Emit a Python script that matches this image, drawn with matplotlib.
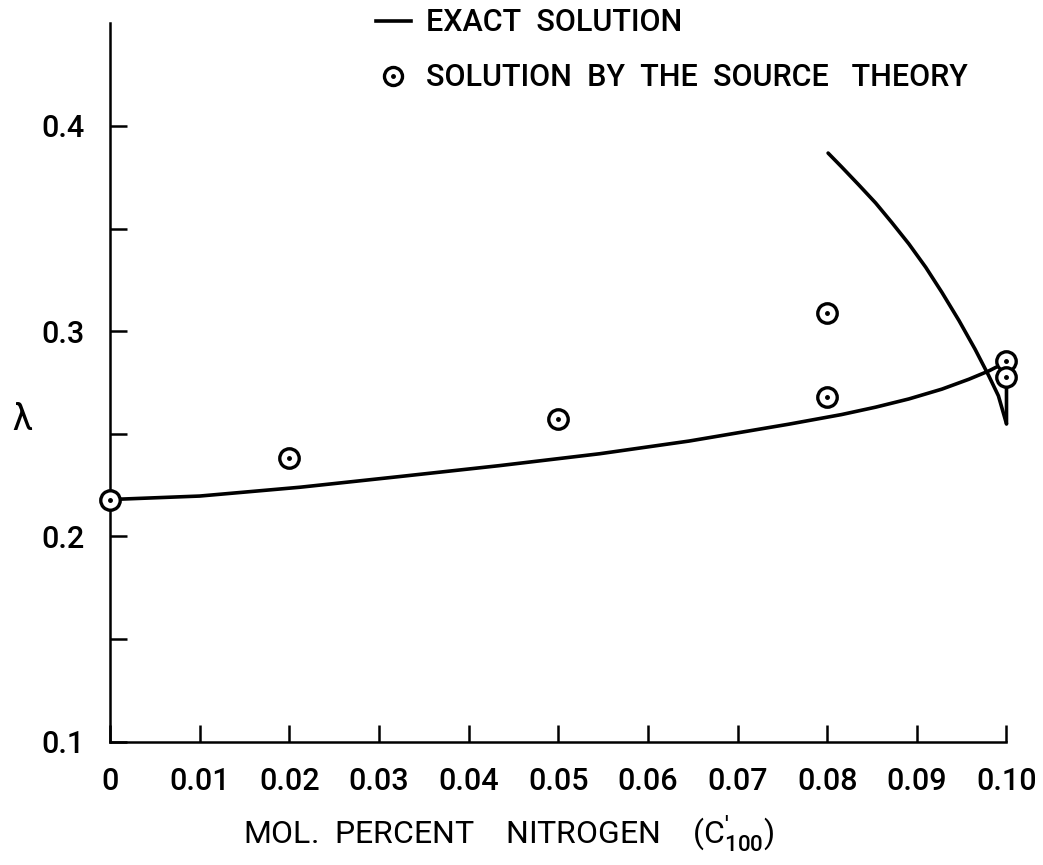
import numpy as np
import matplotlib
matplotlib.use('agg')
import matplotlib.pyplot as plt
from matplotlib.lines import Line2D
from matplotlib.legend_handler import HandlerTuple

plt.rcParams['font.family'] = ['Roboto', 'DejaVu Sans']
plt.rcParams['font.weight'] = 'medium'
plt.rcParams['mathtext.fontset'] = 'custom'
plt.rcParams['mathtext.rm'] = 'Roboto'
plt.rcParams['mathtext.it'] = 'Roboto'

# exact solution, lower branch (ends with the vertical drop at c = 0.10)
lower_x = [0.0, 0.0100, 0.0212, 0.0323, 0.0434, 0.0546, 0.0646, 0.0757, 0.0816, 0.0854,
           0.0891, 0.0928, 0.0958, 0.0980, 0.0994, 0.1000, 0.1000]
lower_y = [0.218, 0.2197, 0.2240, 0.2292, 0.2345, 0.2403, 0.2465, 0.2547, 0.2594, 0.2630,
           0.2670, 0.2718, 0.2766, 0.2806, 0.2837, 0.2856, 0.2549]

# exact solution, upper branch
upper_x = [0.0801, 0.0816, 0.0835, 0.0854, 0.0872, 0.0891, 0.0910, 0.0928, 0.0947, 0.0965,
           0.0980, 0.0991, 0.1000]
upper_y = [0.3868, 0.3801, 0.3714, 0.3625, 0.3530, 0.3426, 0.3311, 0.3189, 0.3052, 0.2912,
           0.2785, 0.2685, 0.2549]

# source theory points
src_x = [0.0, 0.02, 0.05, 0.08, 0.08, 0.1, 0.1]
src_y = [0.218, 0.238, 0.257, 0.309, 0.268, 0.2856, 0.2778]

xticks = [0, 0.01, 0.02, 0.03, 0.04, 0.05, 0.06, 0.07, 0.08, 0.09, 0.10]
xticklabels = ['0', '0.01', '0.02', '0.03', '0.04', '0.05', '0.06', '0.07', '0.08', '0.09', '0.10']
yticks = [0.1, 0.2, 0.3, 0.4]
yticklabels = ['0.1', '0.2', '0.3', '0.4']
yminor = [0.15, 0.25, 0.35]

fig = plt.figure(figsize=(10.43, 8.65), dpi=100)
ax = fig.add_axes([0.1055, 0.1425, 0.8595, 0.8305])

ax.plot(lower_x, lower_y, color='black', lw=2.6, solid_capstyle='round', solid_joinstyle='round', clip_on=False)
ax.plot(upper_x, upper_y, color='black', lw=2.6, solid_capstyle='round', solid_joinstyle='round', clip_on=False)
ax.plot(src_x, src_y, ls='none', marker='o', ms=14, mfc='white', mec='black', mew=2.4,
        clip_on=False, zorder=5)
ax.plot(src_x, src_y, ls='none', marker='o', ms=2.5, color='black', clip_on=False, zorder=6)

ax.set_xlim(0, 0.1)
ax.set_ylim(0.1, 0.45)
ax.spines['top'].set_visible(False)
ax.spines['right'].set_visible(False)
ax.spines['left'].set_linewidth(1.8)
ax.spines['bottom'].set_linewidth(1.8)

ax.set_xticks(xticks)
ax.set_xticklabels(xticklabels)
ax.set_yticks(yticks)
ax.set_yticklabels(yticklabels)
ax.set_yticks(yminor, minor=True)
ax.tick_params(axis='both', which='both', direction='in', length=12, width=1.8)
ax.tick_params(axis='x', labelsize=22, pad=18)
ax.tick_params(axis='y', labelsize=22, pad=18)

ax.set_xlabel(r"MOL.  PERCENT    NITROGEN    (C$^{\prime}_{100}$)", fontsize=23, va='center')
ax.xaxis.set_label_coords(0.445, -0.128)
ax.set_ylabel('λ', fontsize=26, rotation=0, va='center', ha='center')
ax.yaxis.set_label_coords(-0.098, 0.448)

line_h = Line2D([], [], color='black', lw=2.6)
circ_h = Line2D([], [], ls='none', marker='o', ms=13, mfc='white', mec='black', mew=2.4)
dot_h = Line2D([], [], ls='none', marker='o', ms=2.5, color='black')
fig.legend([line_h, (circ_h, dot_h)],
           ['EXACT  SOLUTION', 'SOLUTION  BY  THE  SOURCE   THEORY'],
           handler_map={tuple: HandlerTuple(ndivide=1, pad=0)},
           loc='upper left', bbox_to_anchor=(0.334, 1.022), frameon=False,
           fontsize=22, handlelength=1.15, handletextpad=0.5, labelspacing=0.85)

fig.savefig('out.png', dpi=100)
